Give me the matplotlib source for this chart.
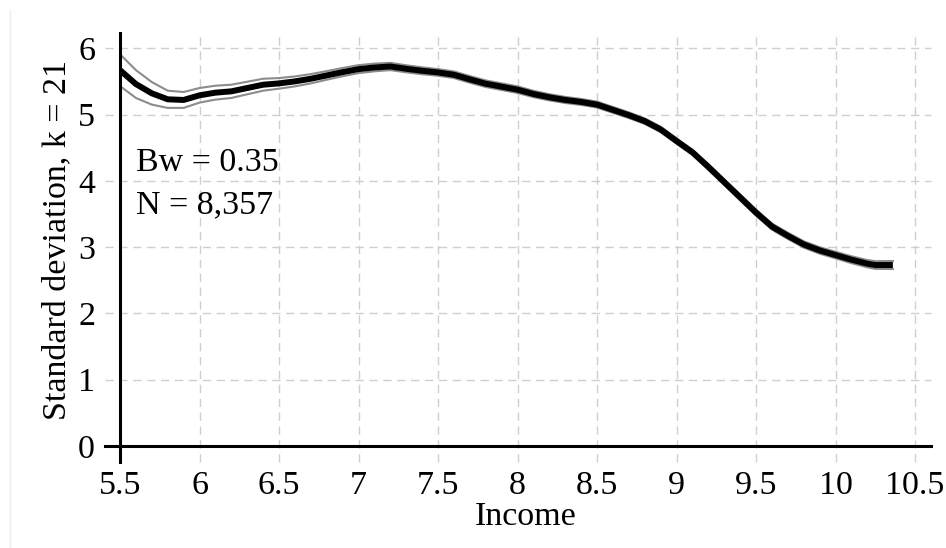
import numpy as np
import matplotlib.pyplot as plt
from matplotlib.lines import Line2D

plt.rcParams['font.family'] = ['Liberation Serif', 'DejaVu Serif']
plt.rcParams['font.size'] = 24.5

# local standard deviation of log income, with confidence band
income = [5.5, 5.6, 5.7, 5.8, 5.9, 6.0, 6.1, 6.2, 6.3, 6.4, 6.5, 6.6, 6.7, 6.8, 6.9,
          7.0, 7.1, 7.2, 7.3, 7.4, 7.5, 7.6, 7.7, 7.8, 7.9, 8.0, 8.1, 8.2, 8.3, 8.4,
          8.5, 8.6, 8.7, 8.8, 8.9, 9.0, 9.1, 9.2, 9.3, 9.4, 9.5, 9.6, 9.7, 9.8, 9.9,
          10.0, 10.1, 10.2, 10.25, 10.36]
sd = [5.67, 5.46, 5.32, 5.23, 5.22, 5.29, 5.33, 5.35, 5.40, 5.45, 5.47, 5.50, 5.54, 5.59, 5.64,
      5.685, 5.71, 5.725, 5.69, 5.66, 5.635, 5.60, 5.53, 5.465, 5.42, 5.375, 5.31, 5.26, 5.22, 5.19,
      5.15, 5.07, 4.99, 4.90, 4.775, 4.60, 4.43, 4.21, 3.98, 3.75, 3.52, 3.31, 3.17, 3.04, 2.95,
      2.88, 2.81, 2.75, 2.73, 2.73]
halfwidth = [0.24, 0.21, 0.17, 0.13, 0.12, 0.11, 0.105, 0.10, 0.095, 0.09, 0.08, 0.075, 0.07, 0.065, 0.062,
             0.06, 0.058, 0.055, 0.053, 0.052, 0.05, 0.05, 0.05, 0.05, 0.05, 0.05, 0.048, 0.047, 0.046, 0.045,
             0.045, 0.044, 0.043, 0.042, 0.041, 0.04, 0.04, 0.042, 0.043, 0.044, 0.045, 0.046, 0.047, 0.048, 0.049,
             0.05, 0.052, 0.055, 0.058, 0.06]

xticks = [5.5, 6, 6.5, 7, 7.5, 8, 8.5, 9, 9.5, 10, 10.5]
xticklabels = ['5.5', '6', '6.5', '7', '7.5', '8', '8.5', '9', '9.5', '10', '10.5']
yticks = [0, 1, 2, 3, 4, 5, 6]

x = np.array(income)
m = np.array(sd)
hw = np.array(halfwidth)

fig = plt.figure(figsize=(9.46, 5.48), dpi=100)
ax = fig.add_axes([120 / 946, 102 / 548, 811 / 946, 413 / 548])

ax.plot(x, m + hw, color='#8c8c8c', lw=1.5, zorder=3)
ax.plot(x, m - hw, color='#8c8c8c', lw=1.5, zorder=3)
ax.plot(x, m, color='black', lw=4.3, solid_capstyle='butt', zorder=4)

ax.set_xlim(5.5, 10.6)
ax.set_ylim(0, 6.23)
ax.set_xticks(xticks)
ax.set_xticklabels(xticklabels)
ax.set_yticks(yticks)
ax.tick_params(length=15, color='none', pad=3)
ax.tick_params(axis='x', length=16, pad=2)

for s in ax.spines.values():
    s.set_visible(False)

# dashed grid running out past the axes in place of tick marks
gkw = dict(color='#cfcfcf', lw=1.0, ls=(0, (6, 4)), clip_on=False, zorder=1)
for yv in yticks[1:]:
    ax.plot([-0.0185, 1], [yv, yv], transform=ax.get_yaxis_transform(), **gkw)
for xv in xticks[1:]:
    ax.plot([xv, xv], [-0.039, 1], transform=ax.get_xaxis_transform(), **gkw)

# axis lines
ax.plot([-0.0185, 1], [0, 0], transform=ax.get_yaxis_transform(), color='black',
        lw=2.2, clip_on=False, zorder=5)
ax.plot([5.5, 5.5], [-0.039, 1], transform=ax.get_xaxis_transform(), color='black',
        lw=2.2, clip_on=False, zorder=5)

ax.text(5.6, 4.27, 'Bw = 0.35', va='center', ha='left')
ax.text(5.6, 3.63, 'N = 8,357', va='center', ha='left')

ax.set_xlabel('Income', labelpad=0)
ax.set_ylabel('Standard deviation, k = 21', labelpad=4)

fig.add_artist(Line2D([10 / 946, 10 / 946], [0, 538 / 548], color='#e9eeee', lw=1.0))

fig.savefig('out.png', dpi=100)
